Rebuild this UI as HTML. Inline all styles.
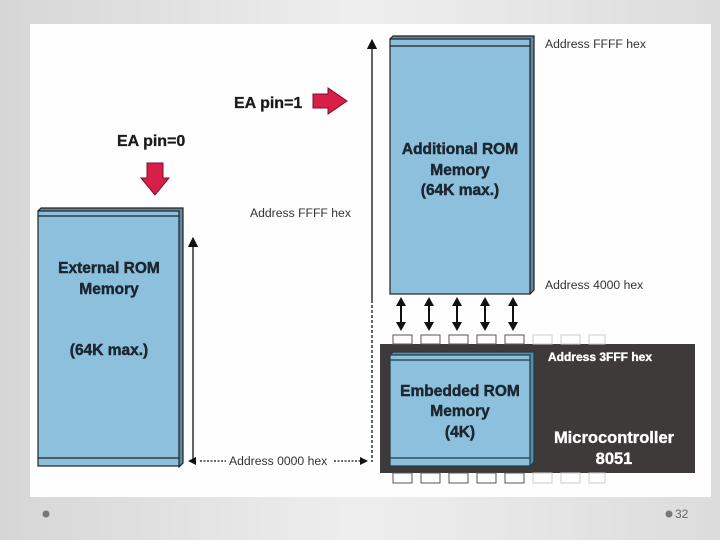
<!DOCTYPE html>
<html><head><style>
html,body{margin:0;padding:0;}
body{width:720px;height:540px;overflow:hidden;background:linear-gradient(90deg,#d6d6d6,#eeeeee 50%,#dcdcdc);}
svg{display:block;}
</style></head><body>
<svg width="720" height="540" viewBox="0 0 720 540" xmlns="http://www.w3.org/2000/svg" font-family="Liberation Sans, Arial, sans-serif">
<defs>
<marker id="ah" markerWidth="8" markerHeight="8" refX="4" refY="4" orient="auto"><path d="M0,0 L8,4 L0,8 z" fill="#111"/></marker>
</defs>
<rect x="30" y="24" width="681" height="473" fill="#fdfefd"/>

<rect x="380" y="344" width="315" height="129" fill="#3e3a3a"/>
<g fill="none" stroke="#555" stroke-width="1">
<rect x="393" y="335" width="19" height="9"/><rect x="421" y="335" width="19" height="9"/><rect x="449" y="335" width="19" height="9"/><rect x="477" y="335" width="19" height="9"/><rect x="505" y="335" width="19" height="9"/>
<rect x="393" y="473" width="19" height="10"/><rect x="421" y="473" width="19" height="10"/><rect x="449" y="473" width="19" height="10"/><rect x="477" y="473" width="19" height="10"/><rect x="505" y="473" width="19" height="10"/>
</g>
<g fill="none" stroke="#ccc" stroke-width="1">
<rect x="533" y="335" width="19" height="9"/><rect x="561" y="335" width="19" height="9"/><rect x="589" y="335" width="16" height="9"/>
<rect x="533" y="473" width="19" height="10"/><rect x="561" y="473" width="19" height="10"/><rect x="589" y="473" width="16" height="10"/>
</g>

<g stroke="#222" stroke-width="1.2">
<path d="M38,211 L41,208 L183,208 L183,463 L179,467 Z" fill="#5d8aa3"/>
<rect x="38" y="211" width="141" height="255" fill="#8cc0dc"/>
<line x1="38" y1="216" x2="179" y2="216"/>
<line x1="38" y1="458" x2="179" y2="458"/>
</g>
<g stroke="#222" stroke-width="1.2">
<path d="M390,39 L393,36 L534,36 L534,290 L530,294 Z" fill="#5d8aa3"/>
<rect x="390" y="39" width="140" height="255" fill="#8cc0dc"/>
<line x1="390" y1="46" x2="530" y2="46"/>
</g>
<g stroke="#1d3a4a" stroke-width="1.2">
<path d="M390,355 L393,352 L534,352 L534,462 L530,466 Z" fill="#5d8aa3"/>
<rect x="390" y="355" width="140" height="111" fill="#8cc0dc"/>
<line x1="390" y1="360" x2="530" y2="360"/>
<line x1="390" y1="458" x2="530" y2="458"/>
</g>

<line x1="193" y1="462" x2="193" y2="242" stroke="#111" stroke-width="1.3" marker-end="url(#ah)"/>
<line x1="372" y1="300" x2="372" y2="44" stroke="#111" stroke-width="1.3" marker-end="url(#ah)"/>
<line x1="372" y1="300" x2="372" y2="462" stroke="#111" stroke-width="1.3" stroke-dasharray="3,2"/>
<line x1="200" y1="461" x2="226" y2="461" stroke="#111" stroke-width="1.2" stroke-dasharray="2,1.5"/>
<path d="M188,461 L196,457 L196,465 Z" fill="#111"/>
<line x1="334" y1="461" x2="360" y2="461" stroke="#111" stroke-width="1.2" stroke-dasharray="2,1.5"/>
<path d="M368,461 L360,457 L360,465 Z" fill="#111"/>
<g stroke="#111" stroke-width="2" fill="#111">
<line x1="401" y1="304" x2="401" y2="324"/><line x1="429" y1="304" x2="429" y2="324"/><line x1="457" y1="304" x2="457" y2="324"/><line x1="485" y1="304" x2="485" y2="324"/><line x1="513" y1="304" x2="513" y2="324"/>
</g>
<g fill="#111">
<path d="M401,297 L396,306 L406,306Z M401,331 L396,322 L406,322Z"/>
<path d="M429,297 L424,306 L434,306Z M429,331 L424,322 L434,322Z"/>
<path d="M457,297 L452,306 L462,306Z M457,331 L452,322 L462,322Z"/>
<path d="M485,297 L480,306 L490,306Z M485,331 L480,322 L490,322Z"/>
<path d="M513,297 L508,306 L518,306Z M513,331 L508,322 L518,322Z"/>
</g>

<path d="M147,163 L163,163 L163,178 L169,178 L155,195 L141,178 L147,178 Z" fill="#d81f4a" stroke="#7a1025" stroke-width="1"/>
<path d="M313,94 L328,94 L328,88 L347,101 L328,114 L328,108 L313,108 Z" fill="#d81f4a" stroke="#7a1025" stroke-width="1"/>

<g font-weight="bold" fill="#1a1a1a" font-size="16" stroke="#1a1a1a" stroke-width="0.3">
<text x="234" y="108">EA pin=1</text>
<text x="117" y="146">EA pin=0</text>
</g>
<g font-weight="bold" fill="#1c2630" font-size="15.5" text-anchor="middle" stroke="#1c2630" stroke-width="0.45">
<text x="109" y="273">External ROM</text>
<text x="109" y="294">Memory</text>
<text x="109" y="355">(64K max.)</text>
<text x="460" y="154">Additional ROM</text>
<text x="460" y="175">Memory</text>
<text x="460" y="195">(64K max.)</text>
<text x="460" y="396">Embedded ROM</text>
<text x="460" y="416">Memory</text>
<text x="460" y="437">(4K)</text>
</g>
<g font-weight="bold" fill="#fff" text-anchor="middle" stroke="#fff" stroke-width="0.35">
<text x="614" y="443" font-size="16.5">Microcontroller</text>
<text x="614" y="464" font-size="16.5">8051</text>
<text x="600" y="361" font-size="12">Address 3FFF hex</text>
</g>
<g fill="#333" font-size="12.2">
<text x="545" y="48">Address FFFF hex</text>
<text x="545" y="289">Address 4000 hex</text>
<text x="250" y="217">Address FFFF hex</text>
<text x="229" y="465">Address 0000 hex</text>
</g>

<circle cx="46" cy="514" r="3.5" fill="#777"/>
<circle cx="669" cy="514" r="3.5" fill="#777"/>
<text x="675" y="518" font-size="12" fill="#666">32</text>
</svg>
</body></html>
